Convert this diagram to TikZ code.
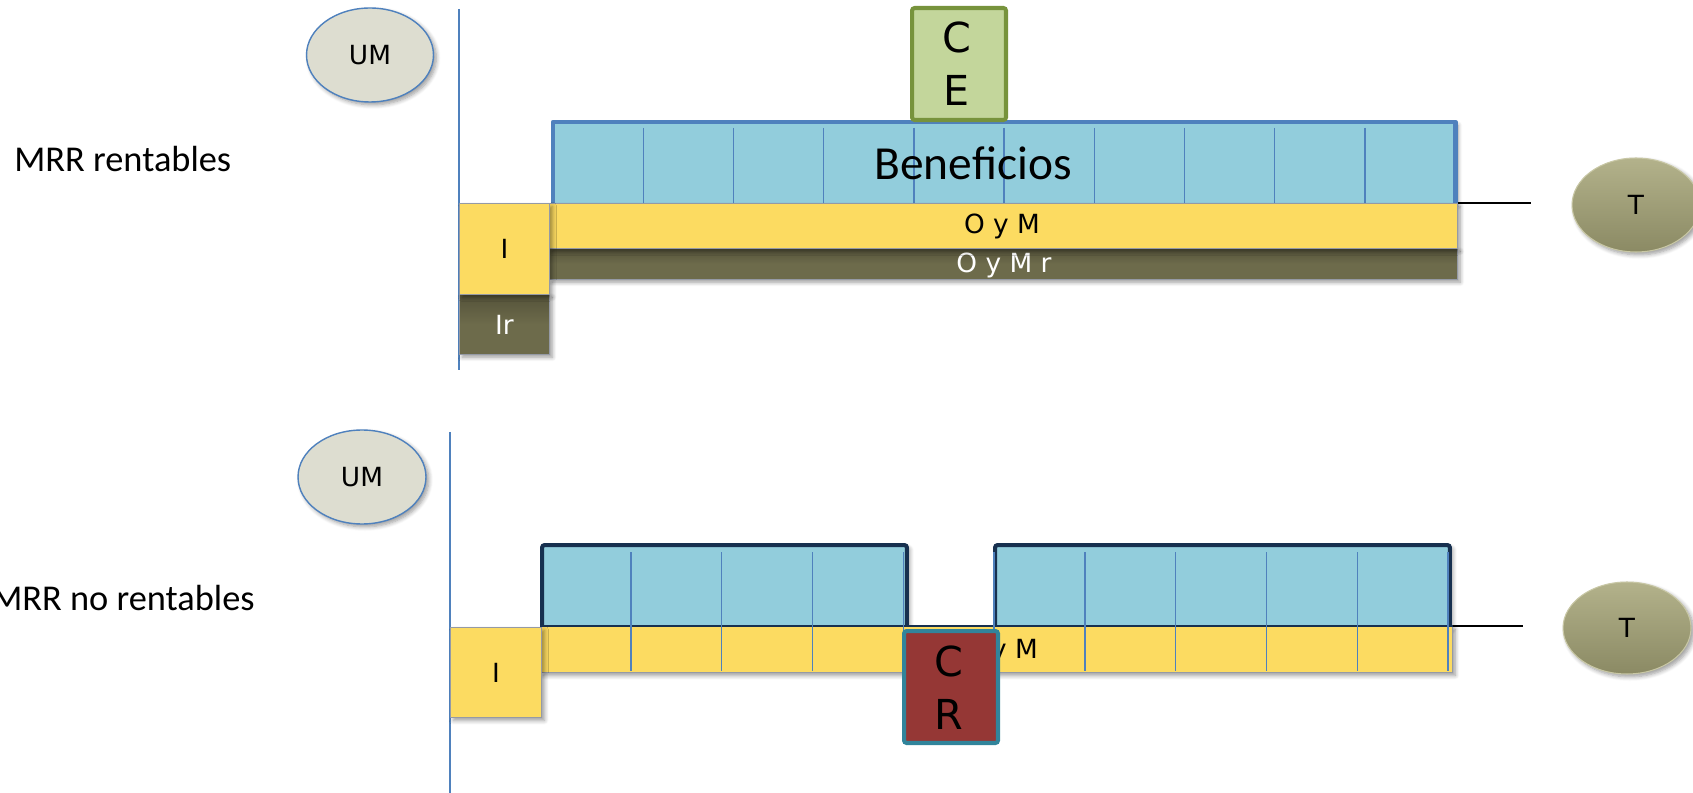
\documentclass[tikz,border=0pt]{standalone}
\usepackage{fontspec}
\setmainfont{Carlito}
\newfontfamily\vfont{DejaVu Sans}
\usetikzlibrary{shapes.geometric,shadows.blur}

\definecolor{benblue}{HTML}{92CDDC}
\definecolor{axisblue}{HTML}{4F81BD}
\definecolor{gold}{HTML}{FCDB61}
\definecolor{olive}{HTML}{6D6B4B}
\definecolor{oliveD}{HTML}{55533A}
\definecolor{umfill}{HTML}{DDDDD0}
\definecolor{tTop}{HTML}{B3B28B}
\definecolor{tBot}{HTML}{8B8A64}
\definecolor{tEdge}{HTML}{C8C7A5}
\definecolor{ceFill}{HTML}{C3D69B}
\definecolor{ceEdge}{HTML}{77933C}
\definecolor{crFill}{HTML}{953735}
\definecolor{crEdge}{HTML}{31849B}
\definecolor{navy}{HTML}{17304F}
\definecolor{barEdge}{HTML}{959AA5}

\begin{document}
\begin{tikzpicture}[x=0.02cm,y=-0.02cm,
  sh/.style={blur shadow={shadow xshift=1.6pt,shadow yshift=-1.6pt,shadow blur steps=6,shadow opacity=40,shadow blur radius=2.4pt}},
  box/.style={rectangle,inner sep=0pt,anchor=north west},
  goldbox/.style={box,fill=gold,draw=barEdge,line width=0.7pt,sh},
  olivebox/.style={box,top color=oliveD,bottom color=olive,middle color=olive,draw=barEdge,line width=0.5pt,sh,text=white},
  ovalnode/.style={ellipse,inner sep=0pt,sh,font=\vfont\fontsize{15}{18}\selectfont},
  umstyle/.style={ovalnode,fill=umfill,draw=axisblue,line width=0.8pt,minimum width=2.54cm,minimum height=1.88cm},
  tstyle/.style={ovalnode,top color=tTop,bottom color=tBot,draw=tEdge,line width=0.6pt,minimum width=2.56cm,minimum height=1.88cm},
  axis/.style={draw=axisblue,line width=0.9pt},
  divider/.style={draw=axisblue,line width=0.8pt},
  small/.style={font=\vfont\fontsize{15}{18}\selectfont,inner sep=0pt},
  midtext/.style={font=\vfont\fontsize{15}{18}\selectfont,inner sep=0pt},
  bigtext/.style={font=\vfont\fontsize{23.5}{30}\selectfont,align=center,inner sep=0pt},
]
\useasboundingbox (0,0) rectangle (1693,793);

% ---------------- top: MRR rentables ----------------
\coordinate (ax1t) at (459,9);
\coordinate (ax1b) at (459,370);
\draw[axis] (ax1t) -- (ax1b);

\node[umstyle] (um1) at (370,55) {UM};
\node[anchor=west,inner sep=0pt,font=\fontsize{20.7}{24}\selectfont] (lbl1) at (14,159) {MRR rentables};

\node[box,fill=benblue,sh,minimum width=18.04cm,minimum height=1.62cm] (ben) at (553,122) {};
\foreach \k in {1,...,9}{
  \draw[divider] (553+90.2*\k,128) -- (553+90.2*\k,203);
}
\draw[draw=axisblue,line width=2.4pt,line join=round] (ben.south west) -- (ben.north west) -- (ben.north east) -- (ben.south east);
\node[font=\fontsize{27}{32}\selectfont,inner sep=0pt] (benl) at (973,163) {Beneficios};

\node[box,fill=ceFill,draw=ceEdge,line width=2.3pt,rounded corners=1.5pt,minimum width=1.88cm,minimum height=2.24cm] (ce) at (910,6) {};
\node[bigtext] (cel) at (957,64) {C\\E};

\node[olivebox,minimum width=18.16cm,minimum height=0.62cm] (oymr) at (549,248) {};
\node[midtext,text=white] (oymrl) at (1004,265) {O y M r};
\node[goldbox,minimum width=18.16cm,minimum height=0.9cm] (oym1) at (549,203) {};
\node[midtext] (oym1l) at (1002,226) {O y M};

\node[olivebox,minimum width=1.8cm,minimum height=1.2cm] (ir) at (459,294) {};
\node[small,text=white] (irl) at (ir.center) {Ir};
\node[goldbox,minimum width=1.8cm,minimum height=1.82cm] (i1) at (459,203) {};
\node[small] (i1l) at (i1.center) {I};

\coordinate (tl1) at (1531,203);
\draw[black,line width=0.8pt] (oym1.north east) -- (tl1);
\node[tstyle] (t1) at (1636,205) {T};

% ---------------- bottom: MRR no rentables ----------------
\coordinate (ax2t) at (450,432);
\coordinate (ax2b) at (450,793);
\draw[axis] (ax2t) -- (ax2b);

\node[umstyle,minimum width=2.56cm] (um2) at (362,477) {UM};
\node[anchor=east,inner sep=0pt,font=\fontsize{20.7}{24}\selectfont] (lbl2) at (255,598) {MRR no rentables};

\node[box,fill=benblue,draw=navy,line width=2.3pt,rounded corners=1.5pt,sh,minimum width=7.3cm,minimum height=1.66cm] (b1) at (540,543) {};
\node[box,fill=benblue,draw=navy,line width=2.3pt,rounded corners=1.5pt,sh,minimum width=9.1cm,minimum height=1.66cm] (b2) at (993,543) {};
\node[goldbox,minimum width=18.24cm,minimum height=0.92cm] (oym2) at (540,626) {};
\draw[navy,line width=1.6pt] (oym2.north west) -- (oym2.north east);
\node[midtext] (oym2l) at (1000,651) {O y M};
\foreach \k in {1,...,10}{
  \draw[divider] (540+90.8*\k,552) -- (540+90.8*\k,671);
}

\node[box,fill=crFill,draw=crEdge,line width=2.3pt,rounded corners=1.5pt,minimum width=1.88cm,minimum height=2.24cm] (cr) at (902,629) {};
\node[bigtext] (crl) at (949,688) {C\\R};

\node[goldbox,minimum width=1.82cm,minimum height=1.8cm] (i2) at (450,627) {};
\node[small] (i2l) at (i2.center) {I};

\coordinate (tl2) at (1523,626);
\draw[black,line width=0.8pt] (oym2.north east) -- (tl2);
\node[tstyle,minimum height=1.84cm] (t2) at (1627,628) {T};
\end{tikzpicture}
\end{document}
